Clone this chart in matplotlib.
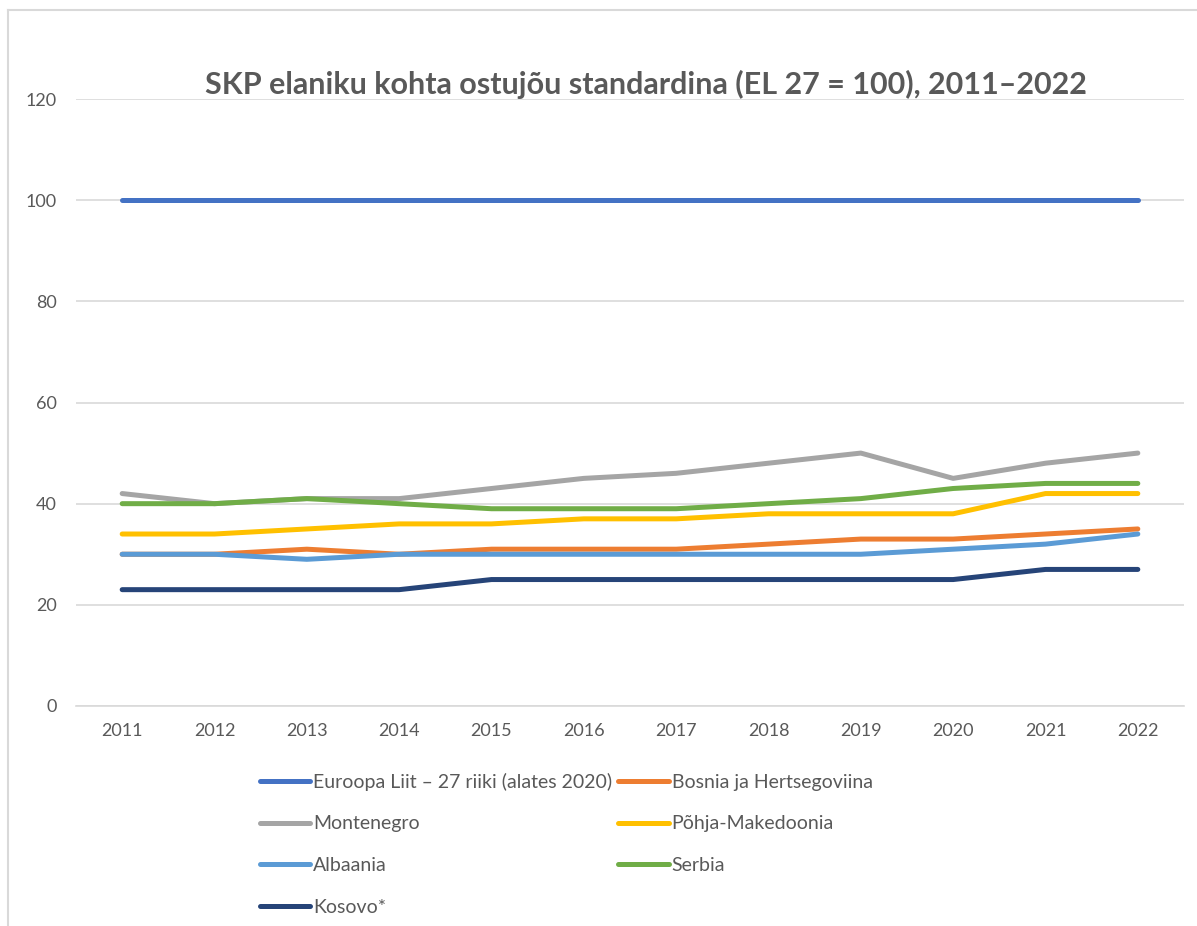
import matplotlib
matplotlib.use("Agg")
import matplotlib.pyplot as plt
from matplotlib.lines import Line2D

plt.rcParams['font.family'] = ['Lato', 'DejaVu Sans']

years = [2011, 2012, 2013, 2014, 2015, 2016, 2017, 2018, 2019, 2020, 2021, 2022]
eu = [100, 100, 100, 100, 100, 100, 100, 100, 100, 100, 100, 100]
bosnia = [30, 30, 31, 30, 31, 31, 31, 32, 33, 33, 34, 35]
montenegro = [42, 40, 41, 41, 43, 45, 46, 48, 50, 45, 48, 50]
n_macedonia = [34, 34, 35, 36, 36, 37, 37, 38, 38, 38, 42, 42]
albania = [30, 30, 29, 30, 30, 30, 30, 30, 30, 31, 32, 34]
serbia = [40, 40, 41, 40, 39, 39, 39, 40, 41, 43, 44, 44]
kosovo = [23, 23, 23, 23, 25, 25, 25, 25, 25, 25, 27, 27]

series = [
    ("Euroopa Liit – 27 riiki (alates 2020)", eu, "#4472C4"),
    ("Bosnia ja Hertsegoviina", bosnia, "#ED7D31"),
    ("Montenegro", montenegro, "#A5A5A5"),
    ("Põhja-Makedoonia", n_macedonia, "#FFC000"),
    ("Albaania", albania, "#5B9BD5"),
    ("Serbia", serbia, "#70AD47"),
    ("Kosovo*", kosovo, "#264478"),
]
title = "SKP elaniku kohta ostujõu standardina (EL 27 = 100), 2011–2022"

W, H = 1197, 926
fig = plt.figure(figsize=(W / 100, H / 100), dpi=100)
ax = fig.add_axes([76 / W, 1 - 706 / H, (1184 - 76) / W, (706 - 99) / H])

handles = {}
for name, vals, col in series:
    ln, = ax.plot(years, vals, color=col, lw=3.6, solid_capstyle='round',
                  solid_joinstyle='round', label=name)
    handles[name] = ln

ax.set_xlim(2010.5, 2022.5)
ax.set_ylim(0, 120)
ax.set_yticks(range(0, 121, 20))
ax.set_xticks(years)
ax.set_xticklabels([str(y) for y in years])
ax.grid(axis='y', color='#D9D9D9', lw=1.2)
ax.set_axisbelow(True)
for s in ['top', 'right', 'left']:
    ax.spines[s].set_visible(False)
ax.spines['bottom'].set_color('#D9D9D9')
ax.spines['bottom'].set_linewidth(1.2)
ax.tick_params(axis='both', length=0, labelsize=13, labelcolor='#595959')
ax.tick_params(axis='y', pad=14)
ax.tick_params(axis='x', pad=12)

fig.text(646 / W, 1 - 84 / H, title, ha='center', va='center',
         fontsize=22, fontweight='bold', color='#595959')

order = ["Euroopa Liit – 27 riiki (alates 2020)", "Montenegro", "Albaania", "Kosovo*",
         "Bosnia ja Hertsegoviina", "Põhja-Makedoonia", "Serbia"]
leg = fig.legend([handles[n] for n in order], order, ncol=2, frameon=False,
                 loc='upper left', bbox_to_anchor=(250 / W, 1 - 763 / H),
                 fontsize=14, handlelength=2.6, handletextpad=0.15,
                 columnspacing=0.3, labelspacing=1.27, borderpad=0)
for t in leg.get_texts():
    t.set_color('#595959')

# chart-area border (top and left edges visible)
fig.add_artist(Line2D([8 / W, 1.0], [1 - 10 / H, 1 - 10 / H], transform=fig.transFigure,
                      color='#D9D9D9', lw=1.5))
fig.add_artist(Line2D([8 / W, 8 / W], [0.0, 1 - 10 / H], transform=fig.transFigure,
                      color='#D9D9D9', lw=1.5))

fig.savefig("out.png", dpi=100)
